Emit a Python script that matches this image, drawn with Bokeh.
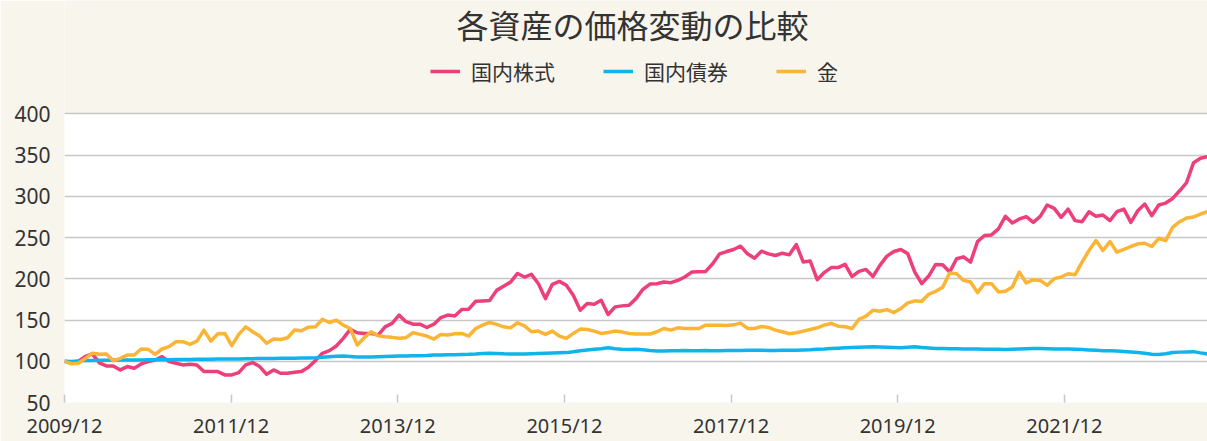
from bokeh.plotting import figure
from bokeh.models import Legend, LegendItem, FixedTicker, Label, Range1d, BoxAnnotation
from bokeh.embed import file_html
from bokeh.resources import INLINE

title_text = "各資産の価格変動の比較"
series_names = ["国内株式", "国内債券", "金"]
tick_labels = ["2009/12", "2011/12", "2013/12", "2015/12", "2017/12", "2019/12", "2021/12"]
y_ticks = [50, 100, 150, 200, 250, 300, 350, 400]

stocks = [
    100, 98, 100, 106, 109, 98, 94.4, 94.4, 89.5, 93.6,
    91.6, 96.8, 99.6, 101.6, 105.6, 99.6, 97.6, 95.6, 96.4, 95.6,
    87.5, 87.5, 87.5, 83.5, 83.5, 86.3, 95.6, 98.4, 93.6, 84.3,
    89.5, 85.5, 85.5, 86.7, 87.5, 92.8, 100.8, 109.7, 112.9, 118.5,
    127.8, 138.6, 134.6, 133.8, 133.8, 131.8, 141.8, 146, 156, 148,
    145, 145, 141, 145, 153, 156, 155, 162.8, 163.2, 172.8,
    173.2, 173.6, 186, 191, 196, 206.5, 202.2, 205.4, 194.1, 176,
    193.3, 196.9, 192.1, 180, 162, 170, 169.2, 174, 156.7, 166,
    167.2, 168, 176, 187.3, 193.7, 194.1, 196.1, 195.3, 198.1, 202.2,
    208.2, 208.6, 209, 218.3, 230.3, 233.1, 235.6, 239.6, 230.3, 225.1,
    233.5, 230.3, 228.3, 231.1, 229.1, 241.6, 220.3, 221.5, 199, 207.6,
    213.6, 213.6, 217.6, 202.8, 209, 211.4, 202.8, 216.3, 227.5, 233.1,
    235.6, 230.3, 208.2, 194.1, 203.4, 217.5, 217.1, 208.2, 224.3, 226.7,
    220.3, 245.2, 252.5, 253.3, 260.5, 275.8, 267.7, 272.6, 275.4, 268.5,
    275.8, 289.5, 285.4, 274.6, 284.6, 270.6, 269.3, 281.4, 275.8, 277.4,
    270.6, 281.4, 284.6, 268.5, 282.6, 290.7, 276.6, 289.5, 291.9, 297.5,
    306.8, 316.8, 340.9, 346.2, 348.2,
]

bonds = [
    100, 99.8, 100.3, 100.8, 101, 101.1, 101.2, 101.4, 101.5, 101.6,
    101.7, 101.6, 101.8, 101.9, 101.9, 102, 102.1, 102.2, 102.3, 102.4,
    102.5, 102.6, 102.7, 102.8, 102.8, 102.9, 103, 103.2, 103.3, 103.4,
    103.5, 103.6, 103.7, 103.8, 103.9, 104, 104.2, 104.8, 105.5, 106.2,
    106.4, 105.9, 105.2, 105.1, 105.3, 105.6, 105.9, 106.1, 106.3, 106.4,
    106.6, 106.8, 107, 107.5, 107.7, 107.8, 108, 108.2, 108.4, 108.8,
    109.4, 109.6, 109.3, 109, 108.9, 108.8, 108.9, 109.2, 109.5, 109.8,
    110, 110.2, 110.5, 111.5, 112.8, 113.7, 114.5, 115.3, 116.4, 115.2,
    114.6, 114.4, 114.5, 114.1, 113.2, 112.5, 112.6, 112.8, 112.9, 113,
    112.8, 112.9, 113, 112.8, 112.9, 113.1, 113, 113.2, 113.3, 113.4,
    113.3, 113.2, 113.1, 113.3, 113.4, 113.3, 113.6, 114, 114.6, 114.8,
    115.5, 115.9, 116.3, 116.7, 116.9, 117.2, 117.6, 117.2, 116.9, 116.6,
    116.4, 116.9, 117.5, 116.8, 116.2, 115.6, 115.4, 115.2, 115.1, 114.9,
    115, 114.8, 114.7, 114.6, 114.5, 114.4, 114.6, 114.9, 115.3, 115.6,
    115.5, 115.2, 115, 114.9, 115, 114.7, 114.2, 113.8, 113.3, 112.9,
    112.7, 112.4, 112, 111.3, 110.6, 109.6, 108.6, 108.3, 109.2, 110.7,
    111.1, 111.4, 111.7, 110.2, 108.9,
]

gold = [
    100, 97, 97.6, 103.6, 109.7, 108.4, 108.8, 100.8, 103.6, 107.6,
    107.6, 114.9, 114.5, 108.4, 114.9, 117.7, 123.7, 123.7, 120.5, 124.5,
    137.8, 124.5, 133.4, 133.8, 118.9, 132.6, 141.8, 135.8, 130.6, 121.7,
    127, 126.5, 128.6, 137.8, 137, 141.4, 141.8, 151, 147, 149.9,
    143.8, 139.8, 119.7, 128.6, 135.8, 131, 129.8, 129, 127.8, 128.6,
    134.6, 132.6, 130.6, 127, 132.6, 131.8, 133.4, 133.8, 130.6, 139.8,
    143.8, 147.1, 144.7, 141.8, 140.6, 146.7, 143, 135.8, 136.6, 132.6,
    136.6, 130.6, 127.8, 133.8, 139, 138.6, 136.6, 133.8, 135, 136.6,
    135.4, 133.8, 133, 133, 133, 135.8, 139.8, 137.8, 140.6, 139.8,
    139.8, 139.8, 143.8, 143.8, 143.8, 143.4, 144.2, 146.3, 139.8, 139.8,
    142.2, 141, 137.8, 135.8, 133.4, 134.6, 136.6, 138.6, 140.6, 143.8,
    145.9, 142.6, 141.8, 139.8, 151, 154.7, 161.9, 160.7, 162.7, 159.1,
    164, 170.8, 173.2, 172.8, 181.3, 184.9, 189.7, 207, 206.2, 198.1,
    196.1, 183.3, 194.1, 194.1, 184.1, 184.9, 190.1, 208.2, 194.9, 199,
    198.1, 192.1, 200.2, 202.2, 206.2, 205, 220.3, 234.4, 246.4, 234.4,
    245.2, 232.3, 235.6, 239.2, 242.4, 243.2, 239.2, 249.2, 246.4, 262.5,
    269.3, 273.8, 275, 278.6, 281.4,
]

x = list(range(len(stocks)))
tick_step = 23.91
x_ticks = [round(k * tick_step, 2) for k in range(len(tick_labels))]

BG = "#f8f5ed"
GRID = "#c8c8c8"
TXT = "#333333"
colors = ["#ec3f7b", "#0fb5ea", "#fbb433"]

W, H = 1207, 441
FRAME_L, PLOT_T, FRAME_B = 64, 114, 404
y_min, y_max = y_ticks[0], y_ticks[-1]
px_per_unit = (FRAME_B - PLOT_T) / (y_max - y_min)
y_top = y_max + PLOT_T / px_per_unit  # frame extends to the top of the canvas

p = figure(width=W, height=H, output_backend="svg", toolbar_location=None,
           x_range=Range1d(0, len(stocks) - 1), y_range=Range1d(y_min, y_top),
           background_fill_color=BG, border_fill_color=BG,
           min_border_left=FRAME_L, min_border_right=0, min_border_top=0,
           min_border_bottom=H - FRAME_B)
p.outline_line_color = None

# white plotting area between 50 and 400
p.add_layout(BoxAnnotation(bottom=y_min, top=y_max, fill_color="white", fill_alpha=1,
                           line_color=None, level="image"))

renderers = []
for data, c in zip([stocks, bonds, gold], colors):
    r = p.line(x, data, line_color=c, line_width=3.5, line_join="round")
    renderers.append(r)

# y axis
p.yaxis.ticker = FixedTicker(ticks=y_ticks)
p.yaxis.axis_line_color = None
p.yaxis.major_tick_line_color = None
p.yaxis.minor_tick_line_color = None
p.yaxis.major_label_text_font = "Noto Sans"
p.yaxis.major_label_text_font_size = "21px"
p.yaxis.major_label_text_color = TXT
p.yaxis.major_label_standoff = 8

# x axis
p.xaxis.ticker = FixedTicker(ticks=x_ticks)
p.xaxis.major_label_overrides = {t: lab for t, lab in zip(x_ticks, tick_labels)}
p.xaxis.axis_line_color = None
p.xaxis.major_tick_in = 8
p.xaxis.major_tick_out = 0
p.xaxis.major_tick_line_color = GRID
p.xaxis.major_tick_line_width = 1.5
p.xaxis.minor_tick_line_color = None
p.xaxis.major_label_text_font = "Noto Sans"
p.xaxis.major_label_text_font_size = "20px"
p.xaxis.major_label_text_color = TXT
p.xaxis.major_label_standoff = 9

p.xgrid.grid_line_color = None
p.ygrid.ticker = FixedTicker(ticks=y_ticks)
p.ygrid.grid_line_color = GRID
p.ygrid.grid_line_width = 1.5

# legend (location = bottom-left corner, frame-relative screen units)
legend = Legend(items=[LegendItem(label=n, renderers=[r]) for n, r in zip(series_names, renderers)],
                orientation="horizontal", location=(366, FRAME_B - 88),
                label_text_font="Noto Sans CJK JP", label_text_font_size="21px",
                label_text_color=TXT, glyph_width=30, glyph_height=24,
                label_standoff=11, spacing=48, padding=0, margin=0,
                border_line_color=None, background_fill_alpha=0)
p.add_layout(legend, "center")

title = Label(x=568, y=FRAME_B - 25, x_units="screen", y_units="screen",
              text=title_text, text_align="center", text_baseline="middle",
              text_font="Noto Sans CJK JP", text_font_size="32px", text_color=TXT)
p.add_layout(title)

open("out.html", "w").write(file_html(p, INLINE))
